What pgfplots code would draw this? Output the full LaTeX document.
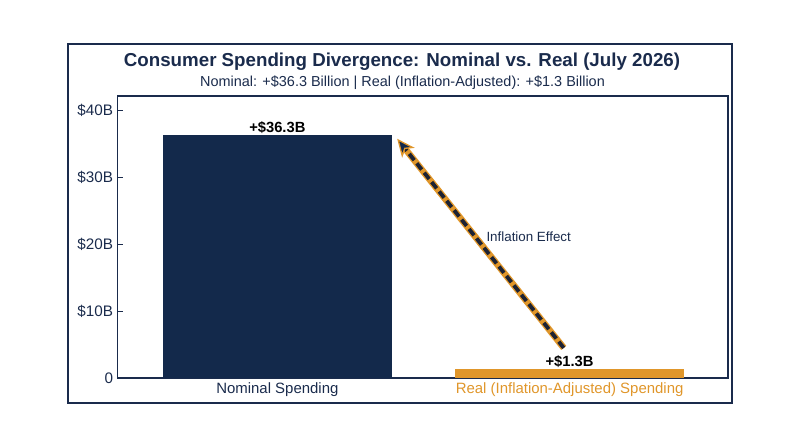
\documentclass[border=0pt]{standalone}
\usepackage{pgfplots}
\pgfplotsset{compat=1.18}
\usepackage{fontspec}
\setmainfont{Liberation Sans}
\usetikzlibrary{arrows.meta}
\definecolor{navyc}{HTML}{13294B}
\definecolor{orangec}{HTML}{E0962A}
\definecolor{titlec}{HTML}{1A2B4C}
\definecolor{dashc}{HTML}{1C2233}
\begin{document}
\begin{tikzpicture}[x=1bp,y=1bp]
\useasboundingbox (0,0) rectangle (800,447);
\draw[titlec, line width=1.2bp] (68,44) rectangle (732,403);
\node[font=\fontsize{18.8}{22}\selectfont\bfseries, text=titlec] at (402,385) {Consumer Spending Divergence: Nominal vs. Real (July 2026)};
\node[font=\fontsize{14.5}{16}\selectfont, text=titlec] at (402.5,364) {Nominal: +\$36.3 Billion | Real (Inflation-Adjusted): +\$1.3 Billion};
\begin{axis}[
  at={(117.5bp,69bp)}, anchor=south west,
  scale only axis, width=610.5bp, height=282bp,
  xmin=-0.547, xmax=1.542, ymin=0, ymax=42.2,
  axis line style={titlec, line width=1.2bp},
  xtick={0,1},
  xticklabels={\textcolor{titlec}{Nominal Spending},\textcolor{orangec}{Real (Inflation-Adjusted) Spending}},
  x tick style={draw=none},
  ytick={0,10,20,30,40},
  yticklabels={0,\$10B,\$20B,\$30B,\$40B},
  y tick style={titlec, line width=1bp},
  tick align=inside, major tick length=5bp,
  xtick pos=bottom, ytick pos=left,
  tick label style={font=\fontsize{15.3}{17}\selectfont, text=titlec},
  y tick label style={xshift=-1bp},
  x tick label style={font=\fontsize{15}{17}\selectfont, yshift=-1bp},
  /pgf/number format/assume math mode=true,
  clip=false,
]
\addplot[ybar, bar width=0.786, bar shift=0pt, fill=navyc, draw=none] coordinates {(0,36.3)};
\addplot[ybar, bar width=0.786, bar shift=0pt, fill=orangec, draw=none] coordinates {(1,1.3)};
\node[anchor=south, font=\fontsize{14.8}{17}\selectfont\bfseries, inner sep=2bp, yshift=0bp] at (axis cs:0,36.3) {+\$36.3B};
\node[anchor=south, font=\fontsize{14.8}{17}\selectfont\bfseries, inner sep=2bp, yshift=0bp] at (axis cs:1,1.3) {+\$1.3B};
\draw[orangec, line width=6.5bp, shorten >=13bp] (axis cs:0.98,4.5) -- (axis cs:0.41,35.8);
\draw[dashc, line width=3.8bp, dash pattern=on 8bp off 4bp, shorten >=13bp] (axis cs:0.98,4.5) -- (axis cs:0.41,35.8);
\draw[draw=orangec, line width=1.3bp, -{Stealth[length=18bp,width=16bp,fill=navyc,inset=5bp]}] (axis cs:0.4157,35.487) -- (axis cs:0.41,35.8);
\node[font=\fontsize{13.4}{15}\selectfont, text=titlec] at (axis cs:0.86,21.1) {Inflation Effect};
\end{axis}
\end{tikzpicture}
\end{document}
